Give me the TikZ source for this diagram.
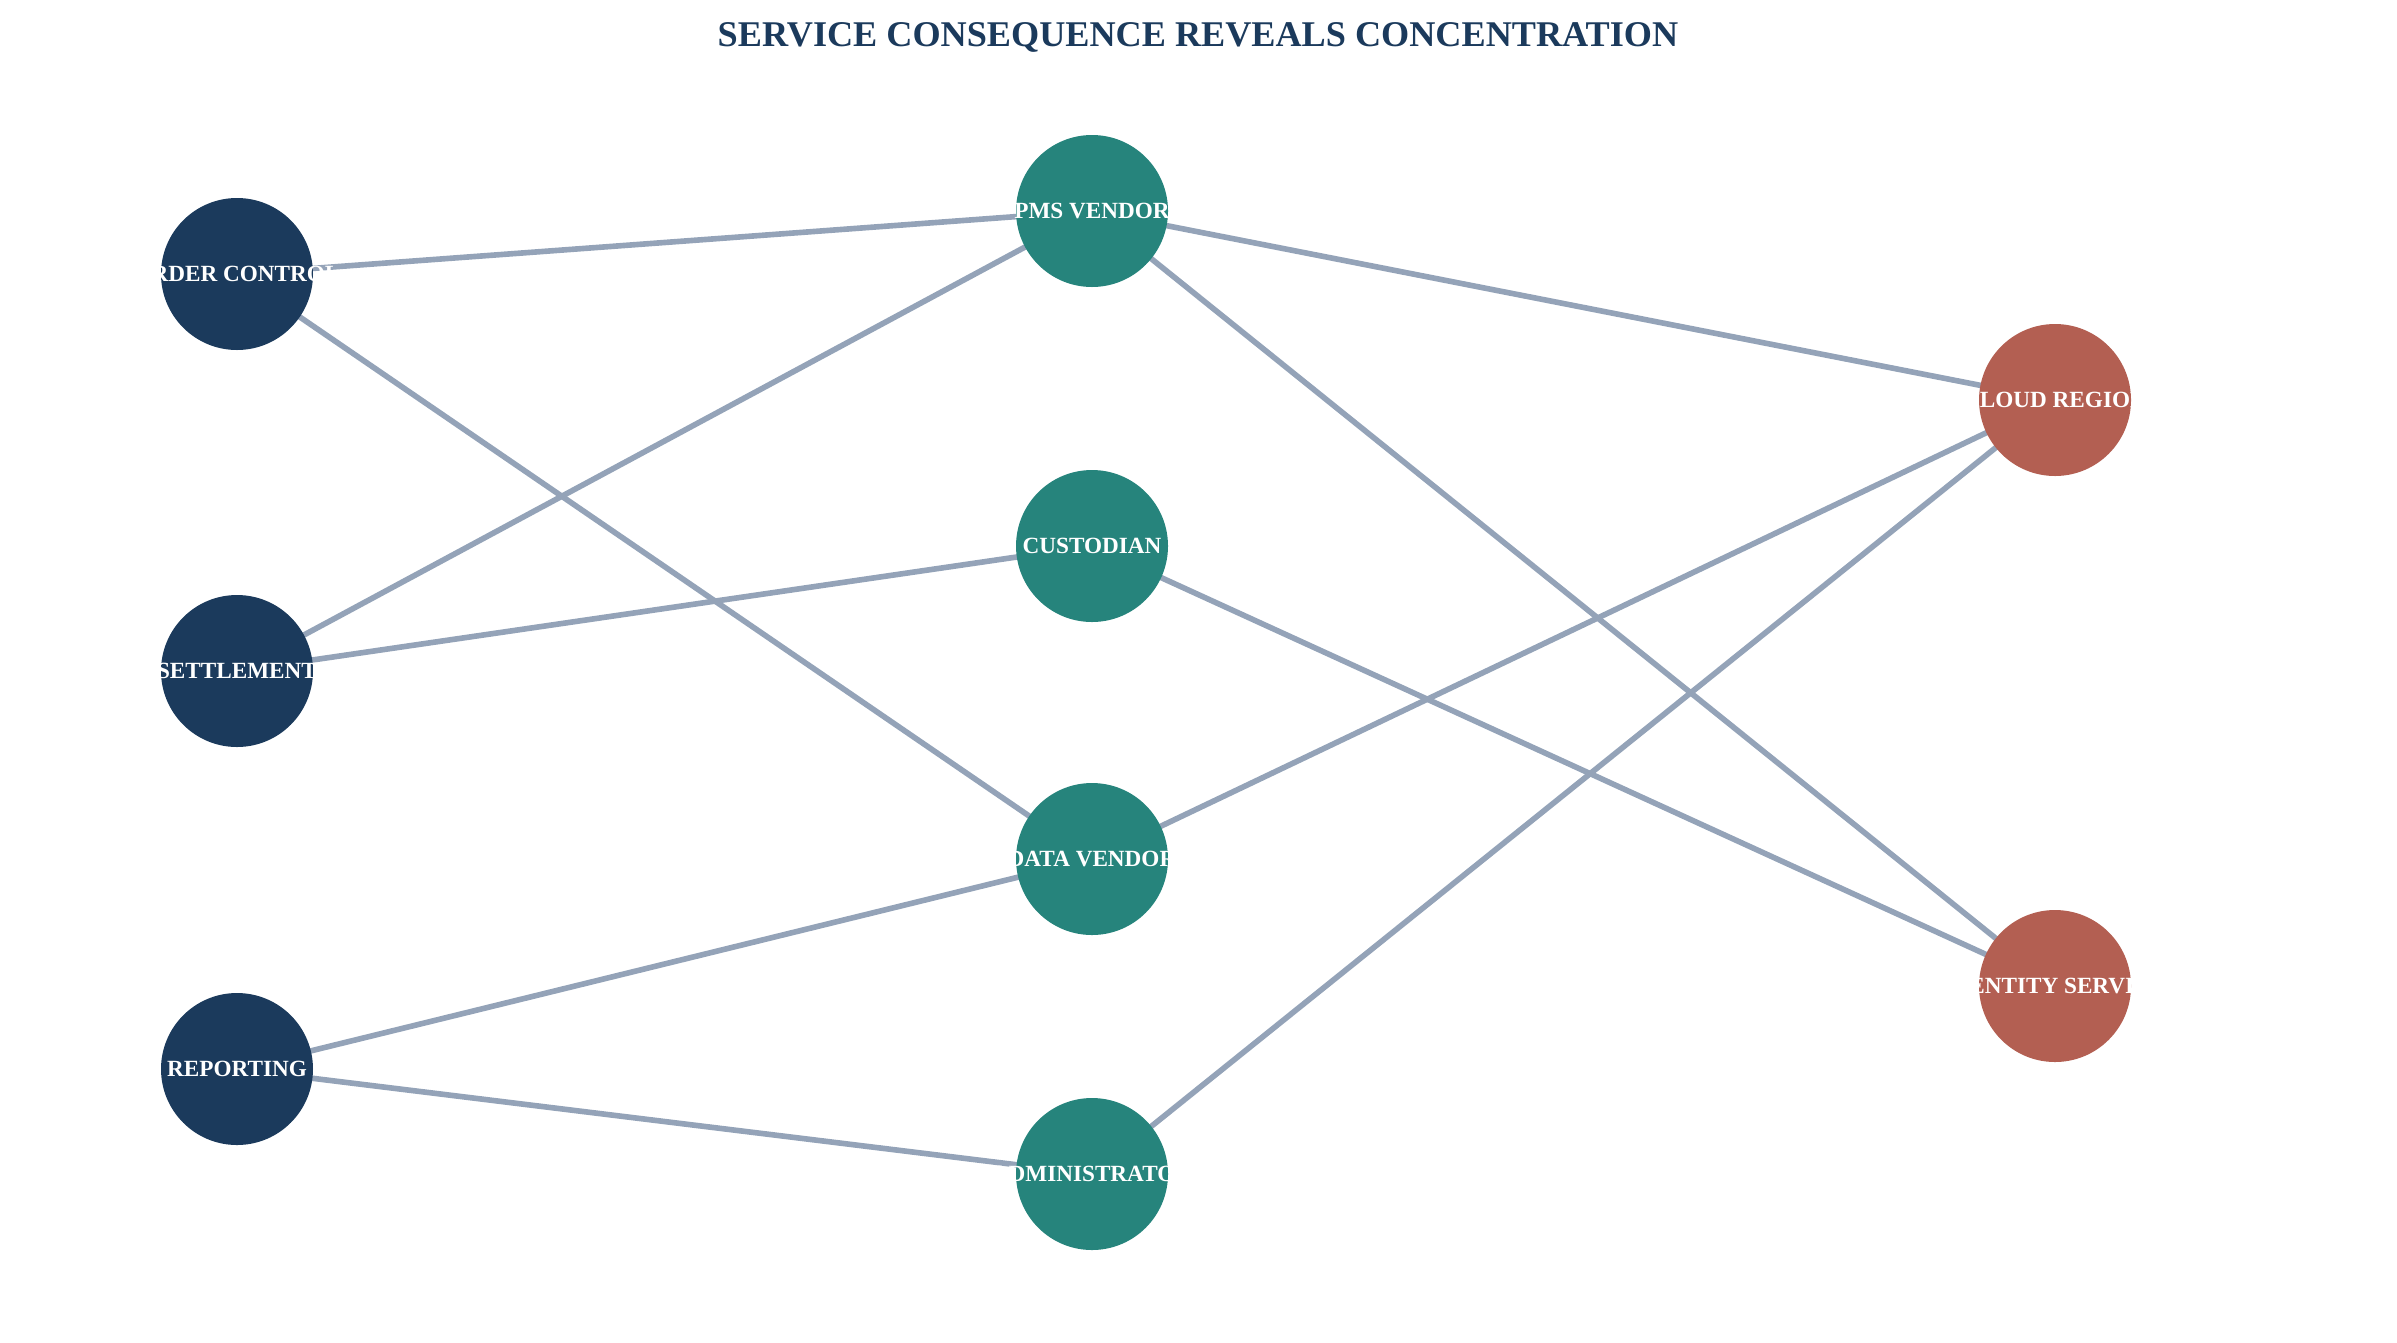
\documentclass[tikz,border=0pt]{standalone}
\usepackage{fontspec}
\setmainfont{Liberation Serif}
\usetikzlibrary{shapes}

\definecolor{navy}{HTML}{1B3A5C}
\definecolor{teal}{HTML}{26847C}
\definecolor{brick}{HTML}{B35F52}
\definecolor{slate}{HTML}{94A3B8}

\begin{document}
\begin{tikzpicture}[
  svc/.style={circle, minimum size=1.52cm, inner sep=0pt, text=white,
    font=\fontsize{6.6}{7.9}\selectfont\bfseries,
    execute at begin node=\hbox to 0pt\bgroup\hss,
    execute at end node=\hss\egroup},
  link/.style={draw=slate, line width=1.6pt}]
\useasboundingbox (0,0) rectangle (23.97,-13.42);
\node[text=navy, font=\fontsize{10.3}{12}\selectfont\bfseries] (T) at (11.98,-0.37) {SERVICE CONSEQUENCE REVEALS CONCENTRATION};
% edges first, circles on top
\coordinate (oc) at (2.37,-2.74);
\coordinate (se) at (2.37,-6.71);
\coordinate (re) at (2.37,-10.69);
\coordinate (pm) at (10.92,-2.11);
\coordinate (cu) at (10.92,-5.46);
\coordinate (dv) at (10.92,-8.59);
\coordinate (ad) at (10.92,-11.74);
\coordinate (cr) at (20.55,-4.00);
\coordinate (id) at (20.55,-9.86);
\draw[link] (oc) -- (pm);
\draw[link] (oc) -- (dv);
\draw[link] (se) -- (pm);
\draw[link] (se) -- (cu);
\draw[link] (re) -- (dv);
\draw[link] (re) -- (ad);
\draw[link] (pm) -- (cr);
\draw[link] (pm) -- (id);
\draw[link] (cu) -- (id);
\draw[link] (dv) -- (cr);
\draw[link] (ad) -- (cr);
\node[svc, fill=navy] (OC) at (oc) {ORDER CONTROL};
\node[svc, fill=navy] (SE) at (se) {SETTLEMENT};
\node[svc, fill=navy] (RE) at (re) {REPORTING};
\node[svc, fill=teal] (PM) at (pm) {PMS VENDOR};
\node[svc, fill=teal] (CU) at (cu) {CUSTODIAN};
\node[svc, fill=teal] (DV) at (dv) {DATA VENDOR};
\node[svc, fill=teal] (AD) at (ad) {ADMINISTRATOR};
\node[svc, fill=brick] (CR) at (cr) {CLOUD REGION};
\node[svc, fill=brick] (ID) at (id) {IDENTITY SERVICE};
\end{tikzpicture}
\end{document}
